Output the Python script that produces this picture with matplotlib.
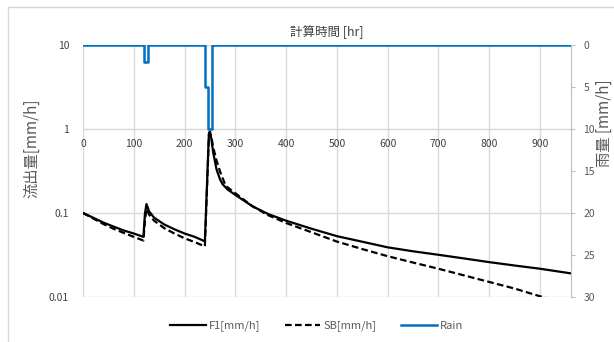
import matplotlib
matplotlib.use('Agg')
import matplotlib.pyplot as plt
from matplotlib.lines import Line2D

plt.rcParams['font.family'] = ['Noto Sans CJK JP', 'DejaVu Sans']

# flow data [hr, mm/h]
f1_t = [0, 20, 40, 60, 80, 100, 119, 122, 125, 130, 140, 160, 180, 200, 220, 240,
        248, 250, 253, 256, 263, 270, 275, 285, 300, 334, 365, 400, 450, 500,
        550, 600, 650, 700, 750, 800, 850, 900, 961]
f1_v = [0.100, 0.088, 0.077, 0.069, 0.062, 0.057, 0.052, 0.098, 0.128, 0.105, 0.088,
        0.073, 0.064, 0.057, 0.052, 0.046, 0.90, 0.93, 0.75, 0.54, 0.33, 0.25, 0.22,
        0.19, 0.164, 0.120, 0.097, 0.081, 0.065, 0.053, 0.0455, 0.039, 0.035, 0.0318,
        0.0288, 0.026, 0.0237, 0.0217, 0.0191]

sb_t = [0, 20, 40, 60, 80, 100, 119, 122, 125, 130, 140, 160, 180, 200, 220, 240,
        248, 250, 253, 256, 263, 270, 281, 300, 334, 365, 400, 450, 500,
        550, 600, 650, 700, 750, 800, 850, 893, 920]
sb_v = [0.100, 0.086, 0.074, 0.065, 0.058, 0.052, 0.047, 0.082, 0.112, 0.096, 0.081,
        0.066, 0.057, 0.050, 0.045, 0.040, 0.84, 0.90, 0.80, 0.62, 0.42, 0.31, 0.21,
        0.172, 0.120, 0.094, 0.076, 0.059, 0.0457, 0.0372, 0.0306, 0.0257, 0.0217,
        0.0181, 0.0151, 0.0126, 0.0105, 0.0094]

# rain [hr, mm/h] (step)
rain_t = [0, 120, 128, 240, 246, 254, 961]
rain_v = [0, 2, 0, 5, 10, 0, 0]

gray = '#595959'
grid_c = '#d9d9d9'

fig = plt.figure(figsize=(6.14, 3.42), dpi=100)
ax = fig.add_axes([83 / 614, 1 - 297 / 342, (571 - 83) / 614, (297 - 45) / 342])

ax.plot(f1_t, f1_v, color='black', lw=1.6, zorder=3)
ax.plot(sb_t, sb_v, color='black', lw=1.6, ls=(0, (3, 1.5)), zorder=3)
ax.set_yscale('log')
ax.set_ylim(0.01, 10)
ax.set_xlim(0, 961)
ax.set_xticks(range(0, 1000, 100))
ax.set_yticks([0.01, 0.1, 1, 10])
ax.set_yticklabels(['0.01', '0.1', '1', '10'])
ax.minorticks_off()
ax.grid(True, color=grid_c, lw=1.0, zorder=0)
for s in ['top', 'right', 'left']:
    ax.spines[s].set_visible(False)
ax.spines['bottom'].set_position(('data', 1))
ax.spines['bottom'].set_color(grid_c)
ax.tick_params(axis='x', length=0, pad=7, labelsize=7.5, colors='#404040')
ax.tick_params(axis='y', length=0, pad=10, labelsize=7.5, colors='#404040')

ax2 = ax.twinx()
ax2.step(rain_t, rain_v, where='post', color='#0070c0', lw=1.8, zorder=4)
ax2.set_ylim(30, 0)
ax2.set_yticks(range(0, 31, 5))
for s in ['top', 'left', 'bottom']:
    ax2.spines[s].set_visible(False)
ax2.spines['right'].set_color('#bfbfbf')
ax2.tick_params(axis='y', length=3, pad=6, labelsize=7.5, colors=gray)
ax2.tick_params(axis='y', color='#bfbfbf')

fig.text(0.533, 1 - 32 / 342, '計算時間 [hr]', ha='center', va='center', fontsize=9, color='#404040')
fig.text(0.052, 1 - 148 / 342, '流出量[mm/h]', ha='center', va='center', rotation=90, fontsize=11, color=gray)
fig.text(0.985, 1 - 123 / 342, '雨量 [mm/h]', ha='center', va='center', rotation=90, fontsize=11, color=gray)

handles = [Line2D([], [], color='black', lw=1.6),
           Line2D([], [], color='black', lw=1.6, ls=(0, (3, 1.5))),
           Line2D([], [], color='#0070c0', lw=1.8)]
fig.legend(handles, ['F1[mm/h]', 'SB[mm/h]', 'Rain'], loc='center', ncol=3,
           bbox_to_anchor=(0.516, 1 - 326 / 342), frameon=False, fontsize=8,
           handlelength=3.2, handletextpad=0.3, columnspacing=2.2, labelcolor=gray)

# chart border (Excel style)
fig.add_artist(Line2D([8 / 614, 1], [1 - 7 / 342, 1 - 7 / 342], color=grid_c, lw=1))
fig.add_artist(Line2D([8 / 614, 8 / 614], [0, 1 - 7 / 342], color=grid_c, lw=1))

fig.savefig('out.png', dpi=100)
